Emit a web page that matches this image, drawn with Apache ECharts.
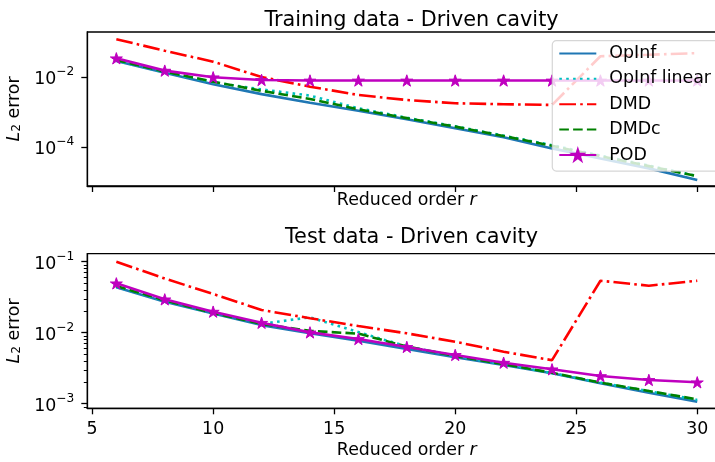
<!DOCTYPE html>
<html>
<head>
<meta charset="utf-8">
<script src="https://cdn.jsdelivr.net/npm/echarts@6/dist/echarts.min.js"></script>
<style>html,body{margin:0;padding:0;background:#fff}#c{width:715px;height:462px}</style>
</head>
<body>
<div id="c"></div>
<script>
// Reduced order r
const orders = [6, 8, 10, 12, 14, 16, 18, 20, 22, 24, 26, 28, 30];

// Training data
const trainOpInf = [0.0292, 0.0135, 0.0063, 0.0033, 0.00187, 0.00111, 6.3e-4, 3.5e-4, 1.93e-4, 9.3e-5, 4.8e-5, 2.5e-5, 1.16e-5];
const trainOpInfLinear = [0.030, 0.014, 0.0072, 0.0045, 0.0030, 0.0013, 7.0e-4, 4.0e-4, 2.15e-4, 1.15e-4, 5.8e-5, 3.0e-5, 1.5e-5];
const trainDMD = [0.122, 0.0575, 0.0279, 0.0102, 0.0054, 0.00312, 0.00224, 0.00181, 0.0017, 0.00162, 0.040, 0.044, 0.049];
const trainDMDc = [0.031, 0.0145, 0.0075, 0.0041, 0.0024, 0.00122, 6.8e-4, 3.9e-4, 2.1e-4, 1.1e-4, 5.6e-5, 2.9e-5, 1.5e-5];
const trainPOD = [0.0349, 0.0155, 0.0100, 0.0084, 0.0081, 0.0081, 0.0081, 0.0081, 0.0081, 0.0081, 0.0081, 0.0081, 0.0081];

// Test data
const testOpInf = [0.0436, 0.0274, 0.0187, 0.0128, 0.0098, 0.0077, 0.0059, 0.0045, 0.0035, 0.00268, 0.00194, 0.00143, 0.00107];
const testOpInfLinear = [0.0445, 0.028, 0.0188, 0.0133, 0.0165, 0.0102, 0.0064, 0.0047, 0.0036, 0.0027, 0.00198, 0.0015, 0.00113];
const testDMD = [0.100, 0.058, 0.0351, 0.0209, 0.016, 0.0124, 0.0098, 0.00746, 0.0054, 0.0041, 0.054, 0.0459, 0.054];
const testDMDc = [0.0455, 0.0285, 0.019, 0.0133, 0.0106, 0.0097, 0.0064, 0.0047, 0.0036, 0.00273, 0.00198, 0.00151, 0.00115];
const testPOD = [0.0496, 0.0295, 0.0198, 0.0138, 0.0101, 0.00815, 0.0063, 0.00486, 0.00378, 0.00305, 0.00245, 0.00216, 0.0020];

// Ticks
const xTicks = [5, 10, 15, 20, 25, 30];
const trainYTicks = [1e-4, 1e-2];
const testYTicks = [1e-3, 1e-2, 1e-1];
const testYMinor = [9e-4, 2e-3, 3e-3, 4e-3, 5e-3, 6e-3, 7e-3, 8e-3, 9e-3, 2e-2, 3e-2, 4e-2, 5e-2, 6e-2, 7e-2, 8e-2, 9e-2];

const titles = ['Training data - Driven cavity', 'Test data - Driven cavity'];
const names = ['OpInf', 'OpInf linear', 'DMD', 'DMDc', 'POD'];

const FONT = 'DejaVu Sans';
const FS = 17.4;
const STAR = 'path://M100,0 L122.45,69.1 L195.11,69.1 L136.33,111.8 L158.78,180.9 L100,138.2 L41.22,180.9 L63.67,111.8 L4.89,69.1 L77.55,69.1 Z';

const styles = [
  { color: '#1f77b4', type: 'solid' },
  { color: '#00bfbf', type: [2.6, 4.3] },
  { color: '#ff0000', type: [16.7, 4.2, 2.6, 4.2] },
  { color: '#008000', type: [9.6, 4.2] },
  { color: '#bf00bf', type: 'solid' }
];

const GL = 87.3, GW = 639;
const grids = [
  { left: GL, width: GW, top: 32, height: 154, outerBoundsMode: 'none', containLabel: false, show: true, borderColor: '#000', borderWidth: 1.3, backgroundColor: 'transparent' },
  { left: GL, width: GW, top: 253.7, height: 154.6, outerBoundsMode: 'none', containLabel: false, show: true, borderColor: '#000', borderWidth: 1.3, backgroundColor: 'transparent' }
];

const yRanges = [[Math.pow(10, -5.106), Math.pow(10, -0.706)], [Math.pow(10, -3.065), Math.pow(10, -0.887)]];

function pairs(vals) { return orders.map((r, i) => [r, vals[i]]); }

function logLabel(v) {
  const e = Math.round(Math.log10(v));
  return '{b|10}{s|' + (e < 0 ? '\u2212' + (-e) : e) + '}';
}

const xAxes = [0, 1].map(g => ({
  gridIndex: g, type: 'value', min: 4.8, max: 31.2,
  axisLine: { onZero: false, lineStyle: { color: '#000', width: 1.3 } },
  axisTick: { customValues: xTicks, length: 6, lineStyle: { color: '#000', width: 1.3 } },
  axisLabel: { show: g === 1, customValues: xTicks, margin: 13, fontSize: FS, fontFamily: FONT, color: '#000' },
  splitLine: { show: false },
  name: '{n|Reduced order }{i|r}', nameLocation: 'middle', nameGap: g === 0 ? 6 : 34,
  nameTextStyle: { rich: { n: { fontSize: FS, fontFamily: FONT, color: '#000' }, i: { fontSize: FS, fontFamily: FONT, fontStyle: 'italic', color: '#000' } } }
}));

const yMajor = [trainYTicks, testYTicks];
const yAxes = [0, 1].map(g => ({
  gridIndex: g, type: 'log', logBase: 10, min: yRanges[g][0], max: yRanges[g][1], position: 'left',
  axisLine: { lineStyle: { color: '#000', width: 1.3 } },
  axisTick: { customValues: yMajor[g], length: 6, lineStyle: { color: '#000', width: 1.3 } },
  axisLabel: {
    customValues: yMajor[g], margin: 13, formatter: logLabel,
    rich: {
      b: { fontSize: FS, fontFamily: FONT, color: '#000', lineHeight: 22, verticalAlign: 'bottom' },
      s: { fontSize: 12.2, fontFamily: FONT, color: '#000', lineHeight: 12, verticalAlign: 'top' }
    }
  },
  splitLine: { show: false },
  name: '{i|L}{s|2}{n| error}', nameLocation: 'middle', nameGap: 50, nameRotate: 90,
  nameTextStyle: { rich: {
    i: { fontSize: FS, fontFamily: FONT, fontStyle: 'italic', color: '#000', lineHeight: 22, verticalAlign: 'bottom' },
    s: { fontSize: 12.2, fontFamily: FONT, color: '#000', lineHeight: 10, verticalAlign: 'bottom' },
    n: { fontSize: FS, fontFamily: FONT, color: '#000', lineHeight: 22, verticalAlign: 'bottom' }
  } }
}));
// minor ticks for test axis
yAxes.push({
  gridIndex: 1, type: 'log', logBase: 10, min: yRanges[1][0], max: yRanges[1][1], position: 'left', offset: 0,
  axisLine: { show: false },
  axisTick: { customValues: testYMinor, length: 3.5, lineStyle: { color: '#000', width: 1 } },
  axisLabel: { show: false },
  splitLine: { show: false }
});

const dataSets = [
  [trainOpInf, trainOpInfLinear, trainDMD, trainDMDc, trainPOD],
  [testOpInf, testOpInfLinear, testDMD, testDMDc, testPOD]
];

const series = [];
[0, 1].forEach(g => {
  names.forEach((nm, k) => {
    const isPOD = nm === 'POD';
    series.push({
      name: nm, type: 'line', xAxisIndex: g, yAxisIndex: g,
      data: pairs(dataSets[g][k]),
      symbol: isPOD ? STAR : 'none', symbolSize: 12, symbolKeepAspect: true,
      showSymbol: isPOD,
      lineStyle: { color: styles[k].color, width: 2.6, type: styles[k].type, cap: 'butt' },
      itemStyle: { color: styles[k].color, borderColor: styles[k].color, borderWidth: 1 },
      emphasis: { disabled: true },
      animation: false, z: 2 + k * 0.01
    });
  });
});

const chart = echarts.init(document.getElementById('c'), null, { renderer: 'canvas' });
chart.setOption({
  animation: false,
  backgroundColor: '#fff',
  title: [
    { text: titles[0], left: 406.5, textAlign: 'center', top: 5, textStyle: { fontSize: 20.8, fontWeight: 'normal', fontFamily: FONT, color: '#000' } },
    { text: titles[1], left: 406.5, textAlign: 'center', top: 222, textStyle: { fontSize: 20.8, fontWeight: 'normal', fontFamily: FONT, color: '#000' } }
  ],
  grid: grids,
  xAxis: xAxes,
  yAxis: yAxes,
  legend: {
    orient: 'vertical', left: 552.3, top: 40.7,
    padding: [4.2, 14, 7.6, 6],
    itemWidth: 37, itemHeight: 14, itemGap: 8.4,
    backgroundColor: 'rgba(255,255,255,0.8)', borderColor: 'rgba(204,204,204,0.8)', borderWidth: 1.2, borderRadius: 4,
    textStyle: { fontSize: FS, fontFamily: FONT, color: '#000', padding: [0, 0, 0, 8] },
    selectedMode: false,
    data: names.map(nm => nm === 'POD' ? { name: nm } : { name: nm, itemStyle: { opacity: 0 } })
  },
  series: series
});
</script>
</body>
</html>
